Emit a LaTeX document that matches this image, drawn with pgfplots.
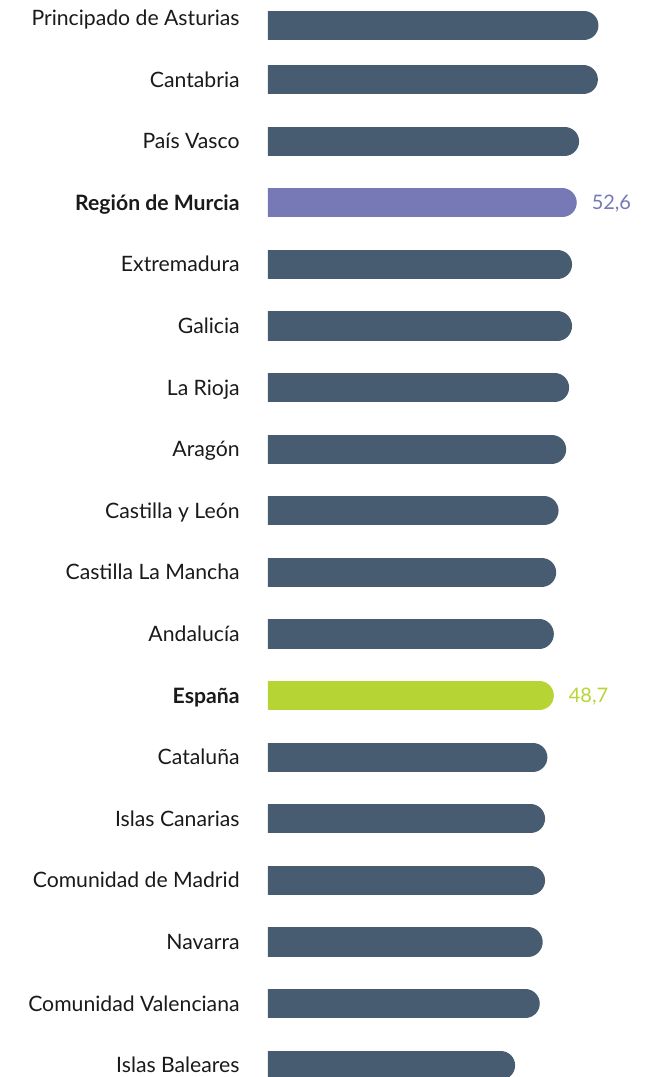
\documentclass[border=0pt]{standalone}
\usepackage{pgfplots}
\pgfplotsset{compat=1.18}
\usepackage{pgfplotstable}
\usepackage{fontspec}
\setmainfont{Lato}

\definecolor{barslate}{HTML}{475C70}
\definecolor{murcia}{HTML}{7679B5}
\definecolor{espana}{HTML}{B6D534}
\definecolor{labtxt}{HTML}{1A1A1A}

% pos = row (0 at top), v = value
\pgfplotstableread{
pos v
0.12 56.3
1 56.2
2 53.0
4 51.8
5 51.8
6 51.3
7 50.8
8 49.5
9 49.1
10 48.7
12 47.6
13 47.2
14 47.2
15 46.8
16 46.3
17 42.1
}\regiones
\pgfplotstableread{
pos v
3 52.6
}\murciadat
\pgfplotstableread{
pos v
11 48.7
}\espanadat

% bars are thick comb lines with a round cap; the cap (7.3pt = 2.487 units)
% is taken off the line so that the bar ends at the value
\pgfplotsset{roundbar/.style={xcomb,line width=14.6pt,line cap=round,
draw=#1,mark=none}}

\begin{document}
\begin{tikzpicture}
\path[use as bounding box] (0,0) rectangle (322pt,538.5pt);
\clip (0,0) rectangle (322pt,538.5pt);
\begin{axis}[at={(134pt,544.9pt)},anchor=north west,
scale only axis,width=176.1pt,height=554.4pt,
xmin=0,xmax=60,ymin=-0.5,ymax=17.5,y dir=reverse,
axis line style={draw=none},tick style={draw=none},
xtick=\empty,
ytick={0,1,...,17},
yticklabels={Principado de Asturias,Cantabria,País Vasco,\textbf{Región de Murcia},
Extremadura,Galicia,La Rioja,Aragón,Castilla y León,Castilla La Mancha,Andalucía,
\textbf{España},Cataluña,Islas Canarias,Comunidad de Madrid,Navarra,
Comunidad Valenciana,Islas Baleares},
yticklabel style={anchor=base east,inner sep=0pt,xshift=-14pt,yshift=-3.7pt,
font=\fontsize{10.6pt}{12pt}\selectfont,text=labtxt},
every node near coord/.append style={anchor=base west,inner sep=0pt,
xshift=7.5pt,yshift=-3.5pt,font=\fontsize{10pt}{12pt}\selectfont},
/pgf/number format/.cd,fixed,fixed zerofill,precision=1,use comma,
assume math mode=true]
\addplot[roundbar=barslate] table[x expr=\thisrow{v}-2.487,y=pos]{\regiones};
\addplot[roundbar=murcia,nodes near coords,point meta=\thisrow{v},
every node near coord/.append style={text=murcia}]
table[x expr=\thisrow{v}-2.487,y=pos]{\murciadat};
\addplot[roundbar=espana,nodes near coords,point meta=\thisrow{v},
every node near coord/.append style={text=espana}]
table[x expr=\thisrow{v}-2.487,y=pos]{\espanadat};
\end{axis}
\end{tikzpicture}
\end{document}
